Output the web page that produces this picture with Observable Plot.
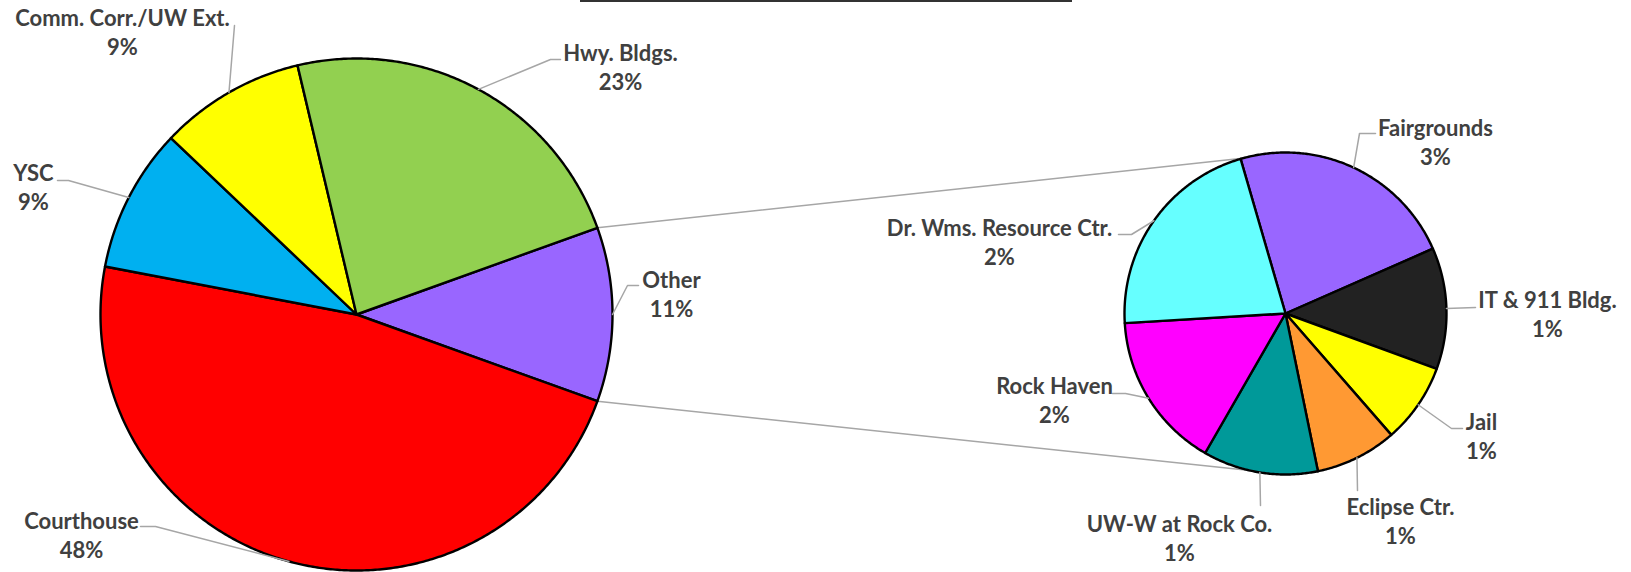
<!DOCTYPE html>
<html><head><meta charset="utf-8">
<script src="https://cdn.jsdelivr.net/npm/d3@7"></script>
<script src="https://cdn.jsdelivr.net/npm/@observablehq/plot@0.6"></script>
<style>
html,body{margin:0;padding:0;background:#fff;}
#wrap{position:relative;width:1631px;height:572px;overflow:hidden;}
#titleRule{position:absolute;left:580px;top:0;width:492px;height:0;border-top:2px solid #333;}
</style></head><body><div id="wrap"><div id="titleRule"></div></div>
<script>
// ---------- data ----------
const mainNames  = ["Other", "Courthouse", "YSC", "Comm. Corr./UW Ext.", "Hwy. Bldgs."];
const mainValues = [11.0, 47.5, 9.1, 9.2, 23.2];
const otherNames  = ["Fairgrounds", "IT & 911 Bldg.", "Jail", "Eclipse Ctr.", "UW-W at Rock Co.", "Rock Haven", "Dr. Wms. Resource Ctr."];
const otherValues = [2.52, 1.34, 0.88, 0.90, 1.27, 1.73, 2.36];

// ---------- styles ----------
const colors = {
  "Other": "#9966FF", "Courthouse": "#FF0000", "YSC": "#00B0F0",
  "Comm. Corr./UW Ext.": "#FFFF00", "Hwy. Bldgs.": "#92D050",
  "Fairgrounds": "#9966FF", "IT & 911 Bldg.": "#222222", "Jail": "#FFFF00",
  "Eclipse Ctr.": "#FF9933", "UW-W at Rock Co.": "#009999", "Rock Haven": "#FF00FF",
  "Dr. Wms. Resource Ctr.": "#66FFFF"
};

// ---------- layout ----------
const W = 1631, H = 572;
const mainPie = {cx: 356, cy: 314, r: 256};
const subPie  = {cx: 1285, cy: 313, r: 161, start: -106.2};
const connectorEnds = [-105.5, 102.7]; // angles on the secondary pie
const lineGap = 29;
const labelLayout = {
  "Comm. Corr./UW Ext.": {x: 122, y: 17.5, leader: [[234, 25]]},
  "Hwy. Bldgs.":         {x: 620, y: 52.5, leader: [[550, 59], [560, 59]]},
  "YSC":                 {x: 33,  y: 172.5, leader: [[68, 180], [57, 180]]},
  "Courthouse":          {x: 81,  y: 520, leader: [[155, 526], [140, 526]]},
  "Other":               {x: 671, y: 279.5, leader: [[627, 285], [638, 285]]},
  "Fairgrounds":         {x: 1435, y: 127.5, leader: [[1359, 133], [1375, 133]]},
  "IT & 911 Bldg.":      {x: 1547, y: 299.5, leader: [[1475, 307]]},
  "Jail":                {x: 1481, y: 421.5, leader: [[1451, 428], [1462, 428]]},
  "Eclipse Ctr.":        {x: 1400, y: 506.5, leader: [[1357, 490]]},
  "UW-W at Rock Co.":    {x: 1179, y: 523.5, leader: [[1260, 505]]},
  "Rock Haven":          {x: 1054, y: 385.5, leader: [[1125, 393], [1112, 393]]},
  "Dr. Wms. Resource Ctr.": {x: 999, y: 227.5, leader: [[1131, 234], [1118, 234]]}
};

// ---------- geometry from values ----------
const rad = d => d * Math.PI / 180;
const pt = (p, deg) => [p.cx + p.r * Math.cos(rad(deg)), p.cy + p.r * Math.sin(rad(deg))];

function buildSlices(names, values, p, startDeg) {
  const total = d3.sum(values);
  let cum = 0;
  const polys = [], mids = [], bounds = [];
  names.forEach((name, i) => {
    const a0 = startDeg + cum / total * 360;
    cum += values[i];
    const a1 = startDeg + cum / total * 360;
    const n = Math.max(2, Math.ceil((a1 - a0) / 0.5));
    polys.push({name, x: p.cx, y: p.cy});
    for (let k = 0; k <= n; k++) {
      const [x, y] = pt(p, a0 + (a1 - a0) * k / n);
      polys.push({name, x, y});
    }
    polys.push({name, x: p.cx, y: p.cy});
    mids.push({name, value: values[i], angle: (a0 + a1) / 2});
    bounds.push([a0, a1]);
  });
  return {polys, mids, bounds};
}

const mainStart = -mainValues[0] / d3.sum(mainValues) * 180;
const M = buildSlices(mainNames, mainValues, mainPie, mainStart);
const S = buildSlices(otherNames, otherValues, subPie, subPie.start);

// connector lines between the "Other" slice and the secondary pie
const connectors = [];
[M.bounds[0][0], M.bounds[0][1]].forEach((a, i) => {
  const [x0, y0] = pt(mainPie, a);
  const [x1, y1] = pt(subPie, connectorEnds[i]);
  connectors.push({id: i, x: x0, y: y0}, {id: i, x: x1, y: y1});
});

// leader lines and labels
const leaders = [], labels = [];
function addLabels(mids, p) {
  mids.forEach(m => {
    const L = labelLayout[m.name];
    const [sx, sy] = pt(p, m.angle);
    leaders.push({name: m.name, x: sx, y: sy});
    L.leader.forEach(([x, y]) => leaders.push({name: m.name, x, y}));
    labels.push({x: L.x, y: L.y, text: m.name});
    labels.push({x: L.x, y: L.y + lineGap, text: Math.round(m.value) + "%"});
  });
}
addLabels(M.mids, mainPie);
addLabels(S.mids, subPie);

const chart = Plot.plot({
  width: W, height: H,
  marginTop: 0, marginBottom: 0, marginLeft: 0, marginRight: 0,
  x: {domain: [0, W], range: [0, W], axis: null},
  y: {domain: [0, H], range: [0, H], axis: null},
  color: {type: "identity"},
  style: {fontFamily: "Lato, 'Open Sans', sans-serif", background: "transparent", overflow: "visible"},
  marks: [
    Plot.line(connectors, {x: "x", y: "y", z: "id", stroke: "#a6a6a6", strokeWidth: 1.5}),
    Plot.line(M.polys, {x: "x", y: "y", z: "name", fill: d => colors[d.name], stroke: "#000", strokeWidth: 2.4, strokeLinejoin: "round"}),
    Plot.line(S.polys, {x: "x", y: "y", z: "name", fill: d => colors[d.name], stroke: "#000", strokeWidth: 2.4, strokeLinejoin: "round"}),
    Plot.line(leaders, {x: "x", y: "y", z: "name", stroke: "#a6a6a6", strokeWidth: 1.5}),
    Plot.text(labels, {x: "x", y: "y", text: "text", fontSize: 22, fontWeight: "bold", fill: "#404040", dy: 1})
  ]
});
chart.style.position = "absolute";
chart.style.left = "0px";
chart.style.top = "0px";
document.getElementById("wrap").appendChild(chart);
</script>
</body></html>
